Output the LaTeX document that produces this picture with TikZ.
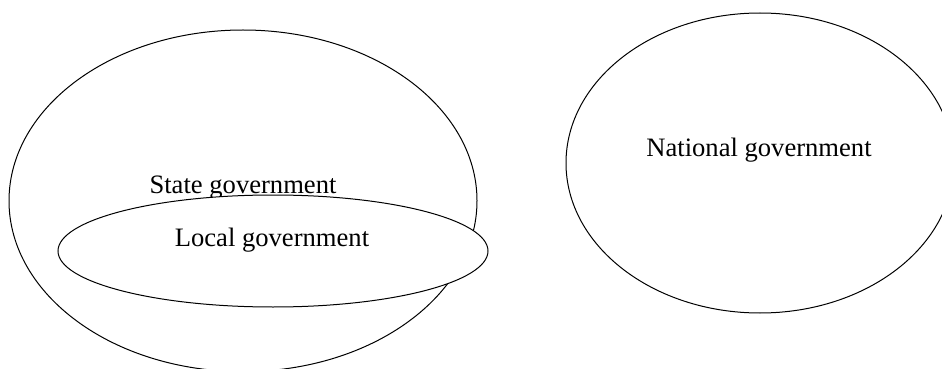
\documentclass[tikz,border=0pt]{standalone}
\usepackage{fontspec}
\setmainfont{Liberation Serif}
\usetikzlibrary{shapes.geometric}

\begin{document}
\begin{tikzpicture}[x=0.5pt, y=-0.5pt, line width=0.5pt,
  every node/.style={font=\fontsize{13.3}{16}\selectfont}]
  \useasboundingbox (0,0) rectangle (942,369);

  % outer sets
  \node [draw, ellipse, inner sep=0, minimum width=234pt, minimum height=170.8pt](state) at (243,200.8) {};
  \node [draw, ellipse, inner sep=0, minimum width=194pt, minimum height=150pt](national) at (760,163) {};
  \node [anchor=base](statetext) at (243,193) {State government};

  % inner set, over the outer one
  \node [draw, fill=white, ellipse, inner sep=0, minimum width=215pt, minimum height=56pt](local) at (273,251) {};
  \node [anchor=base](localtext) at (272,246) {Local government};
  \node [anchor=base](nationaltext) at (759,156) {National government};
\end{tikzpicture}
\end{document}
